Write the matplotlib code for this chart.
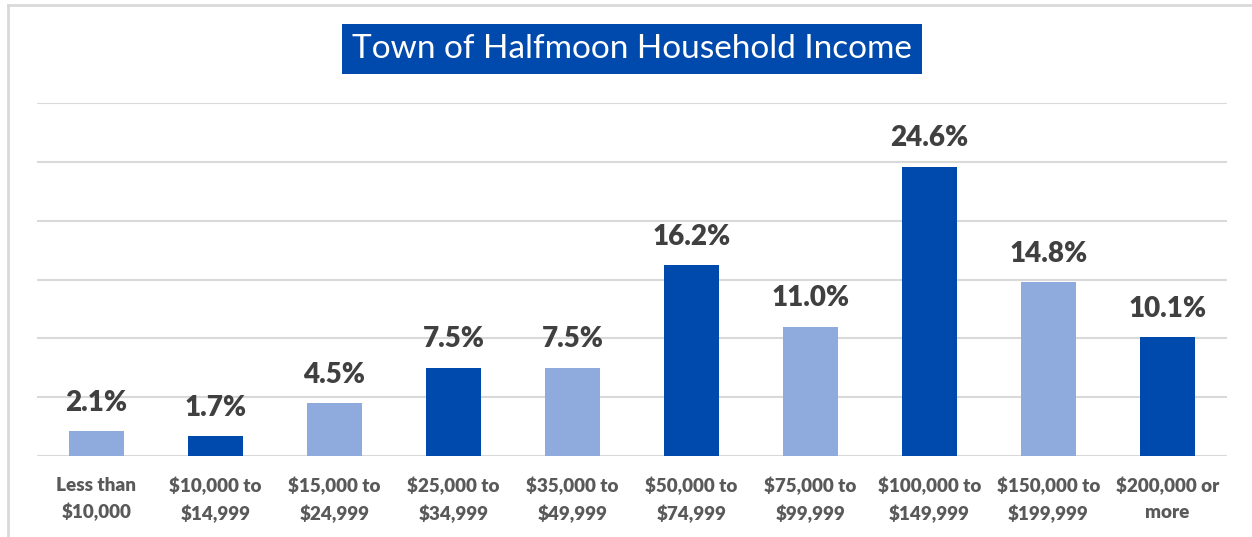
import matplotlib.pyplot as plt
from matplotlib.lines import Line2D

# data
categories = ['Less than\n$10,000', '$10,000 to\n$14,999', '$15,000 to\n$24,999',
              '$25,000 to\n$34,999', '$35,000 to\n$49,999', '$50,000 to\n$74,999',
              '$75,000 to\n$99,999', '$100,000 to\n$149,999', '$150,000 to\n$199,999',
              '$200,000 or\nmore']
shares = [2.1, 1.7, 4.5, 7.5, 7.5, 16.2, 11.0, 24.6, 14.8, 10.1]

dark = '#004AAD'
light = '#8FAADC'
colors = [light if i % 2 == 0 else dark for i in range(len(shares))]

fig = plt.figure(figsize=(12.52, 5.37), dpi=100)
ax = fig.add_axes([37/1252, 81/537, 1190/1252, 353/537])

x = range(len(shares))
bars = ax.bar(x, shares, width=0.46, color=colors, zorder=3)

ax.set_ylim(0, 30)
ax.set_xlim(-0.5, len(shares) - 0.5)
ax.set_yticks(range(0, 31, 5))
ax.yaxis.grid(True, color='#d9d9d9', linewidth=1.5, zorder=0)
ax.tick_params(axis='y', left=False, labelleft=False)
ax.tick_params(axis='x', length=0, pad=15)
for s in ax.spines.values():
    s.set_visible(False)

ax.set_xticks(list(x))
ax.set_xticklabels(categories, fontsize=13.6, fontweight='heavy', color='#595959',
                   family='Lato', linespacing=1.6)

for b, v in zip(bars, shares):
    ax.annotate(f'{v:.1f}%', (b.get_x() + b.get_width() / 2, v),
                xytext=(0, 11), textcoords='offset points', ha='center', va='bottom',
                fontsize=20, fontweight='heavy', color='#404040', family='Lato')

# title in a blue box
fig.text(632/1252, 1 - 49/537, 'Town of Halfmoon Household Income', ha='center', va='center',
         fontsize=24, color='white', family='Lato', fontweight='normal',
         bbox=dict(boxstyle='square,pad=0.3', facecolor='#004AAD', edgecolor='none'))

# chart border (top and left)
fig.add_artist(Line2D([8/1252, 1], [1 - 5/537, 1 - 5/537], color='#d9d9d9', lw=2))
fig.add_artist(Line2D([8/1252, 8/1252], [0, 1 - 5/537], color='#d9d9d9', lw=2))

fig.savefig('out.png', dpi=100)
